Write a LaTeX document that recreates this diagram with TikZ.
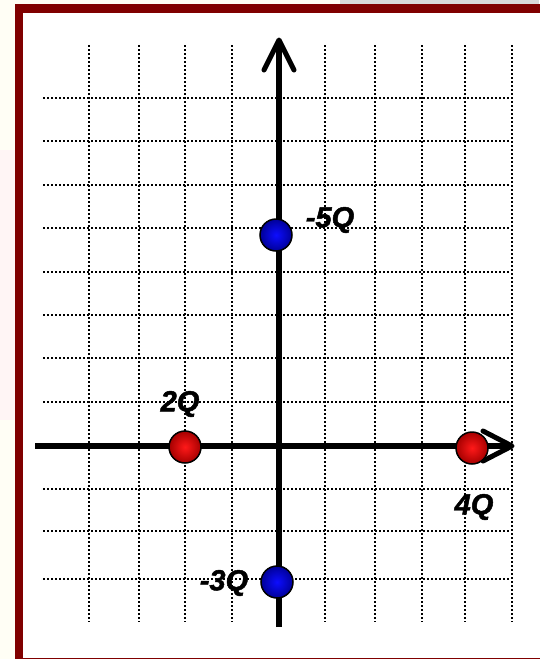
\documentclass[tikz,border=0pt]{standalone}
\usepackage{fontspec}
\setmainfont{Liberation Sans}
\newfontfamily\qfont{Liberation Sans}[BoldItalicFeatures={FakeBold=1.6}]
\begin{document}
\begin{tikzpicture}[x=1pt,y=-1pt,
  gridline/.style={line width=1.6pt,dash pattern=on 1.6pt off 2.4pt,black},
  axisline/.style={line width=5.4pt,black},
  chevron/.style={line width=5pt,black,line cap=round,line join=round},
  posball/.style={circle,minimum size=32pt,inner sep=0pt,draw=black,line width=1.5pt,inner color=red!90!white,outer color=red!65!black},
  negball/.style={circle,minimum size=32pt,inner sep=0pt,draw=black,line width=1.5pt,inner color=blue!95!white,outer color=blue!60!black},
  qlabel/.style={font=\qfont\fontsize{29}{29}\selectfont\bfseries\itshape,inner sep=0pt}]
\useasboundingbox (0,0) rectangle (539,659);
\fill[yellow!4!white] (0,0) rectangle (539,659);
\fill[red!4!white] (0,150) rectangle (15,420);
\fill[black!15] (340,0) rectangle (539,4);
% frame
\fill[white] (19,8.5) rectangle (548,660);
\draw[line width=8.5pt,red!50!black] (19,8.5) rectangle (548,662);
% grid
\foreach \gx in {89,139,185,232,325,375,422,465,512}
  \draw[gridline] (\gx,45) -- (\gx,622);
\foreach \gy in {98,141,185,228,272,315,358,402,489,531,579}
  \draw[gridline] (43,\gy) -- (510,\gy);
% axes
\coordinate (xs) at (35,446);
\coordinate (xe) at (512,446);
\coordinate (ys) at (279,627);
\coordinate (ye) at (279,40);
\draw[axisline] (xs) -- (xe);
\draw[axisline] (ys) -- (ye);
\draw[chevron] (483,431) -- (xe) -- (483,461);
\draw[chevron] (264,70) -- (ye) -- (294,70);
% charges
\node[negball] (c1) at (276,235) {};
\node[posball] (c2) at (185,447) {};
\node[posball] (c3) at (472,448) {};
\node[negball] (c4) at (277,582) {};
% labels
\node[qlabel] (l1) at (330,220) {-5Q};
\node[qlabel] (l2) at (180,404) {2Q};
\node[qlabel] (l3) at (474,507) {4Q};
\node[qlabel] (l4) at (224,583) {-3Q};
\end{tikzpicture}
\end{document}
